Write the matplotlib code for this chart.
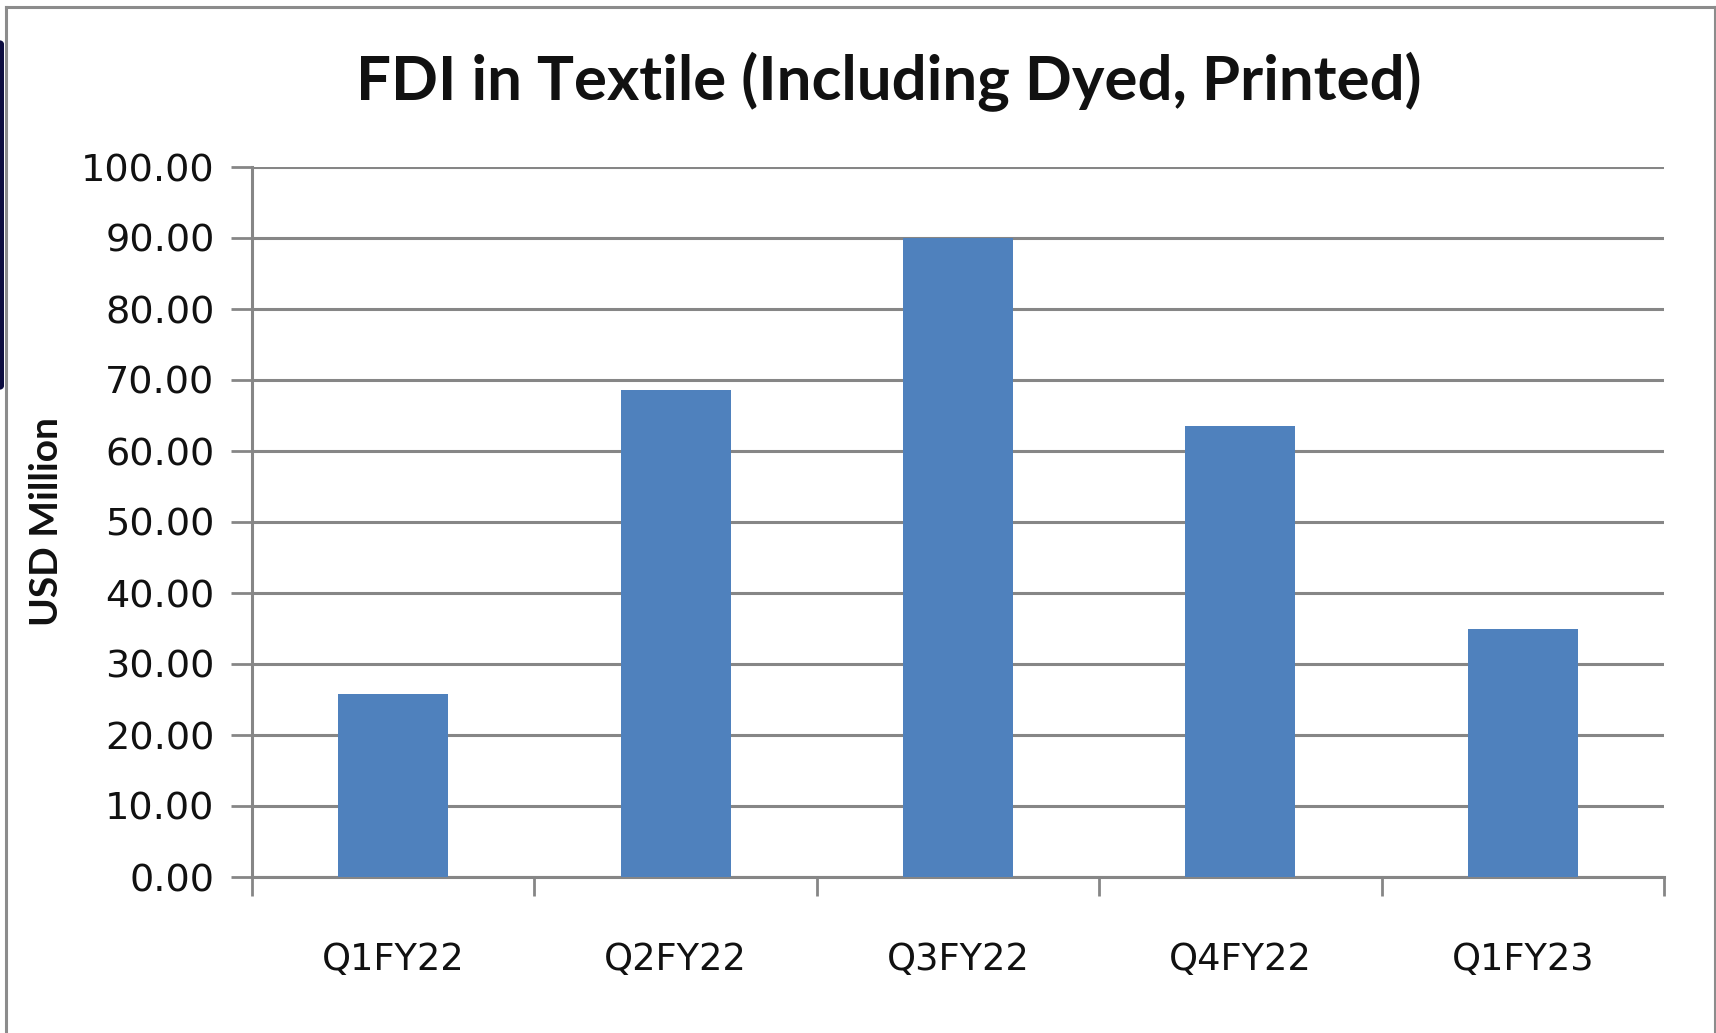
import matplotlib
matplotlib.use("Agg")
import matplotlib.pyplot as plt
from matplotlib.lines import Line2D
from matplotlib.patches import FancyBboxPatch
import numpy as np

quarters = ["Q1FY22", "Q2FY22", "Q3FY22", "Q4FY22", "Q1FY23"]
fdi_usd_mn = [25.8, 68.6, 90.0, 63.5, 34.9]
y_ticks = [0, 10, 20, 30, 40, 50, 60, 70, 80, 90, 100]

W, H = 1716, 1033
fig = plt.figure(figsize=(W / 100, H / 100), dpi=100)
fig.patch.set_facecolor("white")

# outer chart frame (screenshot border) and the dark strip at the far left
fig.add_artist(Line2D([5.5 / W, 5.5 / W], [0, 1 - 7 / H], color="#8c8c8c", lw=2.2))
fig.add_artist(Line2D([5.5 / W, 1714.5 / W], [1 - 7 / H, 1 - 7 / H], color="#8c8c8c", lw=2.2))
fig.add_artist(Line2D([1714.5 / W, 1714.5 / W], [0, 1 - 7 / H], color="#8c8c8c", lw=1.5))
fig.add_artist(FancyBboxPatch((-6 / W, 1 - 390 / H), 10 / W, 350 / H,
                              boxstyle="round,pad=0,rounding_size=0.004",
                              transform=fig.transFigure, color="#0d0d40", lw=0))

ax = fig.add_axes([252 / W, 1 - 877 / H, (1664 - 252) / W, (877 - 167) / H])
x = np.arange(len(quarters))
ax.bar(x, fdi_usd_mn, width=0.39, color="#4f81bd", zorder=3)

ax.set_xlim(-0.5, len(quarters) - 0.5)
ax.set_ylim(0, 100)
ax.set_yticks(y_ticks)
ax.set_yticklabels([f"{v:.2f}" for v in y_ticks], fontsize=27.5, color="#111111")
ax.yaxis.grid(True, color="#868686", lw=2.2, zorder=1)
ax.set_axisbelow(True)

# category ticks sit between the bars, labels centred under them
ax.set_xticks(np.arange(len(quarters) + 1) - 0.5)
ax.set_xticklabels([])
ax.set_xticks(x, minor=True)
ax.set_xticklabels(quarters, minor=True, fontsize=26.5, color="#111111")
ax.tick_params(axis="x", which="minor", length=0, pad=46)
ax.tick_params(axis="x", which="major", length=14, width=2, color="#868686", direction="out")
ax.tick_params(axis="y", length=15, width=2, color="#868686", direction="out", pad=12)

for side in ["top", "right"]:
    ax.spines[side].set_visible(False)
for side in ["left", "bottom"]:
    ax.spines[side].set_color("#868686")
    ax.spines[side].set_linewidth(2.2)

fig.text(889 / W, 1 - 82 / H, "FDI in Textile (Including Dyed, Printed)",
         ha="center", va="center", fontsize=44.5, fontweight="bold",
         family=["Lato", "DejaVu Sans"], color="#111111")
fig.text(47 / W, 1 - 522 / H, "USD Million", rotation=90, ha="center", va="center",
         fontsize=28, fontweight="bold", family=["Lato", "DejaVu Sans"], color="#111111")

fig.savefig("out.png", dpi=100, facecolor="white")
